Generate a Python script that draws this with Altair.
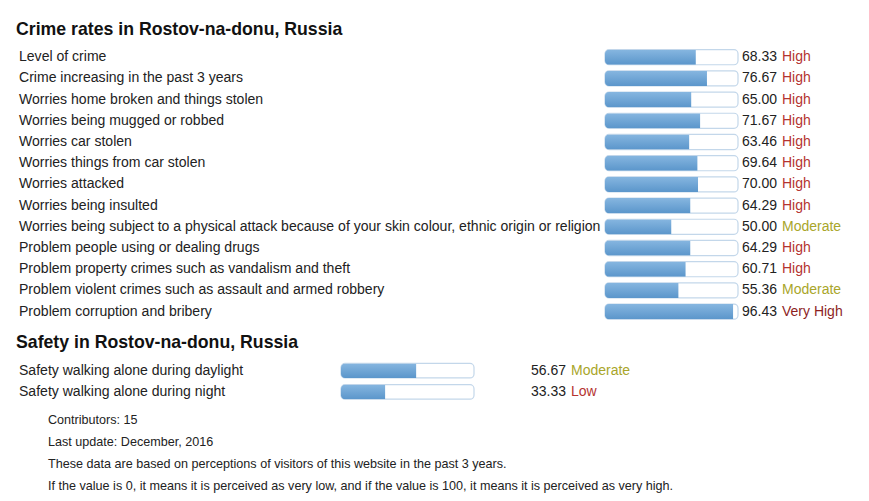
import altair as alt
import pandas as pd

crime_labels = [
    "Level of crime",
    "Crime increasing in the past 3 years",
    "Worries home broken and things stolen",
    "Worries being mugged or robbed",
    "Worries car stolen",
    "Worries things from car stolen",
    "Worries attacked",
    "Worries being insulted",
    "Worries being subject to a physical attack because of your skin colour, ethnic origin or religion",
    "Problem people using or dealing drugs",
    "Problem property crimes such as vandalism and theft",
    "Problem violent crimes such as assault and armed robbery",
    "Problem corruption and bribery",
]
crime_values = [68.33, 76.67, 65.00, 71.67, 63.46, 69.64, 70.00, 64.29, 50.00, 64.29, 60.71, 55.36, 96.43]
crime_levels = ["High", "High", "High", "High", "High", "High", "High", "High",
                "Moderate", "High", "High", "Moderate", "Very High"]

safety_labels = ["Safety walking alone during daylight", "Safety walking alone during night"]
safety_values = [56.67, 33.33]
safety_levels = ["Moderate", "Low"]

crime_title = "Crime rates in Rostov-na-donu, Russia"
safety_title = "Safety in Rostov-na-donu, Russia"
footer_lines = [
    "Contributors: 15",
    "Last update: December, 2016",
    "These data are based on perceptions of visitors of this website in the past 3 years.",
    "If the value is 0, it means it is perceived as very low, and if the value is 100, it means it is perceived as very high.",
]

level_domain = ["Low", "Moderate", "High", "Very High"]
level_colors = ["#b53330", "#a9a62a", "#b53330", "#8e1f1f"]

FONT = "Liberation Sans"
TEXT = "#222222"

crime_df = pd.DataFrame({
    "label": crime_labels,
    "value": crime_values,
    "level": crime_levels,
    "vtext": [f"{v:.2f}" for v in crime_values],
})
safety_df = pd.DataFrame({
    "label": safety_labels,
    "value": safety_values,
    "level": safety_levels,
    "vtext": [f"{v:.2f}" for v in safety_values],
})
footer_df = pd.DataFrame({"line": footer_lines})
titles_df = pd.DataFrame({"title": [crime_title, safety_title]})

grad = alt.Gradient(
    gradient="linear",
    stops=[alt.GradientStop(color="#86b6e0", offset=0),
           alt.GradientStop(color="#5b96cb", offset=1)],
    x1=0, x2=0, y1=0, y2=1,
)
color_scale = alt.Scale(domain=level_domain, range=level_colors)


def section(df, yrange, xrange, pad_inner, value_x):
    ysc = alt.Scale(domain=list(df["label"]), range=yrange,
                    paddingInner=pad_inner, paddingOuter=pad_inner / 2)
    xsc = alt.Scale(domain=[0, 100], range=xrange)
    y = alt.Y("label:N", scale=ysc, axis=None, sort=None)
    base = alt.Chart(df)
    bg = base.mark_bar(fill="white", stroke="#c3d7ea", strokeWidth=1.2,
                       cornerRadius=4).encode(
        x=alt.X("zero:Q", scale=xsc, axis=None), x2="full:Q", y=y
    ).transform_calculate(zero="0", full="100")
    fill = base.mark_bar(color=grad, cornerRadiusTopLeft=4,
                         cornerRadiusBottomLeft=4).encode(
        x=alt.X("value:Q", scale=xsc, axis=None), y=y
    )
    labels = base.mark_text(align="left", baseline="middle", font=FONT,
                            fontSize=14.05, color=TEXT).encode(
        x=alt.value(11), y=y, text="label:N"
    )
    vals = base.mark_text(align="left", baseline="middle", font=FONT,
                          fontSize=14, color=TEXT).encode(
        x=alt.value(value_x), y=y, text="vtext:N"
    )
    lvls = base.mark_text(align="left", baseline="middle", font=FONT,
                          fontSize=14).encode(
        x=alt.value(value_x + 40), y=y, text="level:N",
        color=alt.Color("level:N", scale=color_scale, legend=None),
    )
    return alt.layer(bg, fill, labels, vals, lvls)


crime = section(crime_df, [38.6, 314.2], [597, 730], 0.29, 734)
safety = section(safety_df, [352.0, 394.6], [333, 466], 0.32, 523)

footer = alt.Chart(footer_df).mark_text(
    align="left", baseline="middle", font=FONT, fontSize=12.6, color=TEXT
).encode(
    x=alt.value(40),
    y=alt.Y("line:N", sort=None, axis=None,
            scale=alt.Scale(domain=footer_lines, range=[400.5, 489.5])),
    text="line:N",
)

titles = alt.Chart(titles_df).mark_text(
    align="left", baseline="middle", font=FONT, fontSize=17.7,
    fontWeight="bold", color="#111111"
).encode(
    x=alt.value(8),
    y=alt.Y("title:N", sort=None, axis=None,
            scale=alt.Scale(domain=[crime_title, safety_title], type="point",
                            padding=0, range=[21.5, 334.5])),
    text="title:N",
)

chart = alt.layer(crime, safety, footer, titles).resolve_scale(
    x="independent", y="independent", color="shared"
).properties(
    width=853, height=485, padding=0,
    autosize=alt.AutoSizeParams(type="none"),
    background="white",
).configure_view(stroke=None)

chart.save("out.html", embed_options={"renderer": "svg", "actions": False})
